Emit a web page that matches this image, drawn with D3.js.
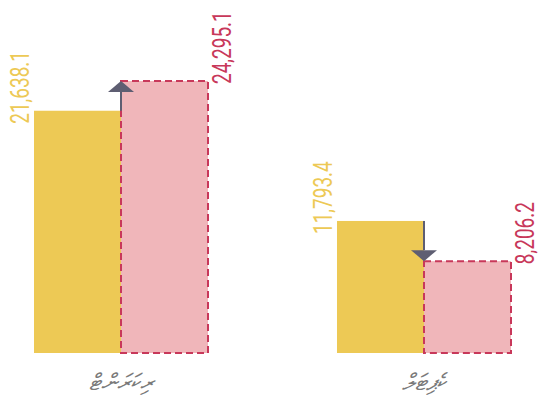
<!DOCTYPE html>
<html>
<head>
<meta charset="utf-8">
<script src="https://cdn.jsdelivr.net/npm/d3@7"></script>
<style>
  body { margin: 0; background: #fff; }
  svg { display: block; }
</style>
</head>
<body>
<div id="chart"></div>
<script>
// data
const categories = ['ރިކަރަންޓް', 'ކެޕިޓަލް'];
const before = [21638.1, 11793.4];
const after = [24295.1, 8206.2];

const width = 538;
const height = 405;
const baseline = 353;

const yellow = '#EDC955';
const pinkFill = '#F0B6BA';
const pinkLine = '#C8385A';
const arrowCol = '#5E5E72';

const svg = d3.select('#chart')
  .append('svg')
  .attr('width', width)
  .attr('height', height);

const x = d3.scaleBand()
  .domain(categories)
  .range([34, 511])
  .paddingInner(0.4257)
  .paddingOuter(0);

const y = d3.scaleLinear()
  .domain([0, d3.max(after.concat(before))])
  .range([baseline, 81]);

const half = x.bandwidth() / 2;
const fmt = d3.format(',.1f');

const rows = categories.map((c, i) => ({cat: c, a: before[i], b: after[i]}));

const g = svg.selectAll('g.grp')
  .data(rows)
  .enter().append('g')
  .attr('class', 'grp');

// first bar
g.append('rect')
  .attr('x', d => x(d.cat))
  .attr('y', d => y(d.a))
  .attr('width', half)
  .attr('height', d => baseline - y(d.a))
  .attr('fill', yellow);

// second bar, dashed outline
g.append('rect')
  .attr('x', d => x(d.cat) + half)
  .attr('y', d => y(d.b))
  .attr('width', half)
  .attr('height', d => baseline - y(d.b))
  .attr('fill', pinkFill)
  .attr('stroke', pinkLine)
  .attr('stroke-width', 2)
  .attr('stroke-dasharray', '7,4');

// change arrow
const headH = 11, headW = 13;
g.append('line')
  .attr('x1', d => x(d.cat) + half)
  .attr('x2', d => x(d.cat) + half)
  .attr('y1', d => y(d.a))
  .attr('y2', d => y(d.b) + (d.b > d.a ? headH : -headH))
  .attr('stroke', arrowCol)
  .attr('stroke-width', 2);

g.append('path')
  .attr('fill', arrowCol)
  .attr('d', d => {
    const cx = x(d.cat) + half;
    const tip = y(d.b);
    const base = tip + (d.b > d.a ? headH : -headH);
    return `M${cx},${tip}L${cx - headW},${base}L${cx + headW},${base}Z`;
  });

// value labels (rotated, squeezed to look condensed)
const sx = 0.73;
g.append('text')
  .attr('transform', d => `translate(${x(d.cat) - 5},${y(d.a) + 13}) rotate(-90) scale(${sx},1)`)
  .attr('fill', yellow)
  .style('font-family', 'Roboto, sans-serif')
  .style('font-weight', 400)
  .style('font-size', '26px')
  .text(d => fmt(d.a));

g.append('text')
  .attr('transform', d => `translate(${x(d.cat) + x.bandwidth() + 23},${y(d.b) + 3}) rotate(-90) scale(${sx},1)`)
  .attr('fill', pinkLine)
  .style('font-family', 'Roboto, sans-serif')
  .style('font-weight', 400)
  .style('font-size', '26px')
  .text(d => fmt(d.b));

// category labels
g.append('text')
  .attr('x', d => x(d.cat) + half)
  .attr('y', 390)
  .attr('text-anchor', 'middle')
  .attr('direction', 'rtl')
  .attr('fill', '#7a7a7a')
  .style('font-family', "'Noto Sans', 'DejaVu Sans', sans-serif")
  .style('font-style', 'italic')
  .style('font-size', '23px')
  .text(d => d.cat);
</script>
</body>
</html>
